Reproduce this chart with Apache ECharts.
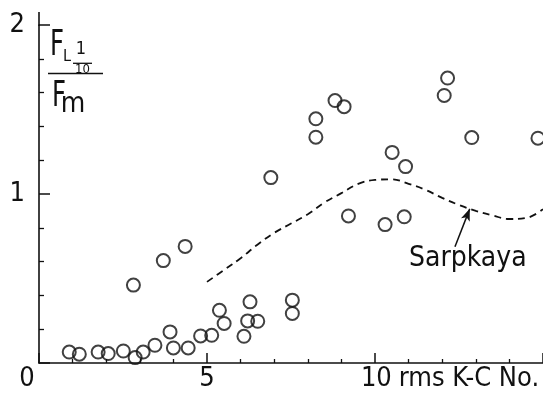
<!DOCTYPE html>
<html>
<head>
<meta charset="utf-8">
<script src="https://cdn.jsdelivr.net/npm/echarts@6/dist/echarts.min.js"></script>
<style>
  html, body { margin: 0; padding: 0; background: #fff; }
  #chart { width: 543px; height: 396px; }
</style>
</head>
<body>
<div id="chart"></div>
<script>
// ---- data ----
const kcNumber = [0.90, 1.20, 1.76, 2.06, 2.51, 2.86, 3.10, 3.45, 3.90, 4.00, 4.44, 4.81, 5.14, 5.37, 5.51,
                  6.10, 6.21, 6.28, 6.51, 7.54, 7.54, 2.81, 3.70, 4.35, 6.90, 8.24, 8.24, 8.81, 9.08, 9.21,
                  10.30, 10.87, 10.51, 10.91, 12.06, 12.16, 12.88, 14.85];
const forceRatio = [0.065, 0.052, 0.065, 0.056, 0.071, 0.032, 0.065, 0.105, 0.184, 0.089, 0.089, 0.160, 0.164, 0.312, 0.234,
                    0.158, 0.249, 0.362, 0.247, 0.372, 0.293, 0.461, 0.606, 0.690, 1.097, 1.445, 1.336, 1.553, 1.517, 0.870,
                    0.819, 0.865, 1.246, 1.162, 1.583, 1.686, 1.334, 1.330];
const sarpkayaX = [5.0, 5.5, 6.0, 6.5, 7.0, 7.5, 8.0, 8.5, 9.0, 9.5, 10.0, 10.5, 11.0, 11.5, 12.0, 12.5, 13.0, 13.5, 14.0, 14.5, 15.0];
const sarpkayaY = [0.48, 0.55, 0.62, 0.70, 0.77, 0.825, 0.88, 0.95, 1.005, 1.06, 1.083, 1.087, 1.06, 1.025, 0.977, 0.935, 0.90, 0.873, 0.852, 0.858, 0.91];
const xTickLabels = ['0', '5', '10'];
const yTickLabels = ['1', '2'];
const xAxisTitle = 'rms K-C No.';
const curveLabel = 'Sarpkaya';
const arrowFrom = [12.38, 0.688];
const arrowTo = [12.82, 0.912];

// ---- chart ----
const FONT = "'Liberation Sans Narrow','DejaVu Sans Condensed',sans-serif";
const INK = '#111';
const chart = echarts.init(document.getElementById('chart'), null, { renderer: 'canvas' });

const points = kcNumber.map((x, i) => [x, forceRatio[i]]);
const curve = sarpkayaX.map((x, i) => [x, sarpkayaY[i]]);

function txt(text, x, y, size, opts) {
  opts = opts || {};
  return {
    type: 'text', x: x, y: y, scaleX: opts.scaleX || 1, z: 10,
    style: {
      text: text, x: 0, y: 0,
      font: size + 'px ' + FONT,
      fill: INK, align: opts.align || 'left', verticalAlign: 'middle'
    }
  };
}
function bar(x1, y1, x2, y2, w) {
  return { type: 'line', z: 10, shape: { x1: x1, y1: y1, x2: x2, y2: y2 }, style: { stroke: INK, lineWidth: w || 1.5 } };
}

chart.setOption({
  backgroundColor: '#fff',
  animation: false,
  grid: { left: 39, right: 0, top: 25, bottom: 33, containLabel: false },
  xAxis: {
    type: 'value', min: 0, max: 15, interval: 5,
    axisLine: { show: true, onZero: false, lineStyle: { color: INK, width: 1.6 } },
    axisTick: { show: true, inside: true, length: 10, lineStyle: { color: INK, width: 1.5 } },
    minorTick: { show: true, splitNumber: 5, length: 4, lineStyle: { color: INK, width: 1.3 } },
    splitLine: { show: false },
    minorSplitLine: { show: false },
    axisLabel: {
      show: true, margin: 2, color: INK, fontFamily: FONT, fontSize: 27,
      showMaxLabel: false,
      formatter: function (v) {
        if (v === 0) return '{z|' + xTickLabels[0] + '}{s|}';
        if (v === 5) return xTickLabels[1];
        if (v === 10) return '{s2|}{n|' + xTickLabels[2] + '}{t|' + xAxisTitle + '}';
        return '';
      },
      rich: {
        z: { fontFamily: FONT, fontSize: 27, color: INK },
        s: { width: 24 },
        s2: { width: 150 },
        n: { fontFamily: FONT, fontSize: 27, color: INK },
        t: { fontFamily: FONT, fontSize: 27, color: INK, padding: [0, 0, 0, 7] }
      }
    }
  },
  yAxis: {
    type: 'value', min: 0, max: 2, interval: 1,
    axisLine: { show: true, onZero: false, lineStyle: { color: INK, width: 1.6 } },
    axisTick: { show: true, inside: true, length: 11, lineStyle: { color: INK, width: 1.5 } },
    minorTick: { show: true, splitNumber: 5, length: 5, lineStyle: { color: INK, width: 1.3 } },
    splitLine: { show: false },
    minorSplitLine: { show: false },
    axisLabel: {
      show: true, margin: 14, color: INK, fontFamily: FONT, fontSize: 27,
      formatter: function (v) {
        if (v === 1) return yTickLabels[0];
        if (v === 2) return yTickLabels[1];
        return '';
      }
    }
  },
  series: [
    {
      type: 'scatter', data: points, symbol: 'circle', symbolSize: 13,
      itemStyle: { color: 'rgba(255,255,255,0)', borderColor: INK, borderWidth: 2 },
      clip: false, silent: true, z: 3
    },
    {
      type: 'line', data: curve, smooth: 0.4, showSymbol: false, symbol: 'none',
      lineStyle: { color: INK, width: 1.8, type: [7, 5] },
      silent: true, z: 2,
      markLine: {
        silent: true, symbol: ['none', 'arrow'], symbolSize: [7, 12],
        label: { show: false },
        lineStyle: { color: INK, width: 1.5, type: 'solid' },
        data: [[{ coord: arrowFrom }, { coord: arrowTo }]]
      }
    }
  ],
  graphic: [
    bar(39, 12, 39, 26, 1.6),
    txt('F', 50, 46, 36, { scaleX: 0.75 }),
    txt('L', 63, 56.5, 16),
    txt('1', 81, 49, 18, { align: 'center' }),
    bar(73, 63.3, 92, 63.3, 1.3),
    txt('10', 82.5, 69.5, 13, { align: 'center' }),
    bar(48, 73.5, 103, 73.5, 1.6),
    txt('F', 52, 96.5, 36, { scaleX: 0.75 }),
    txt('m', 73, 105, 28, { align: 'center' }),
    txt(curveLabel, 409, 259, 28)
  ]
});
</script>
</body>
</html>
